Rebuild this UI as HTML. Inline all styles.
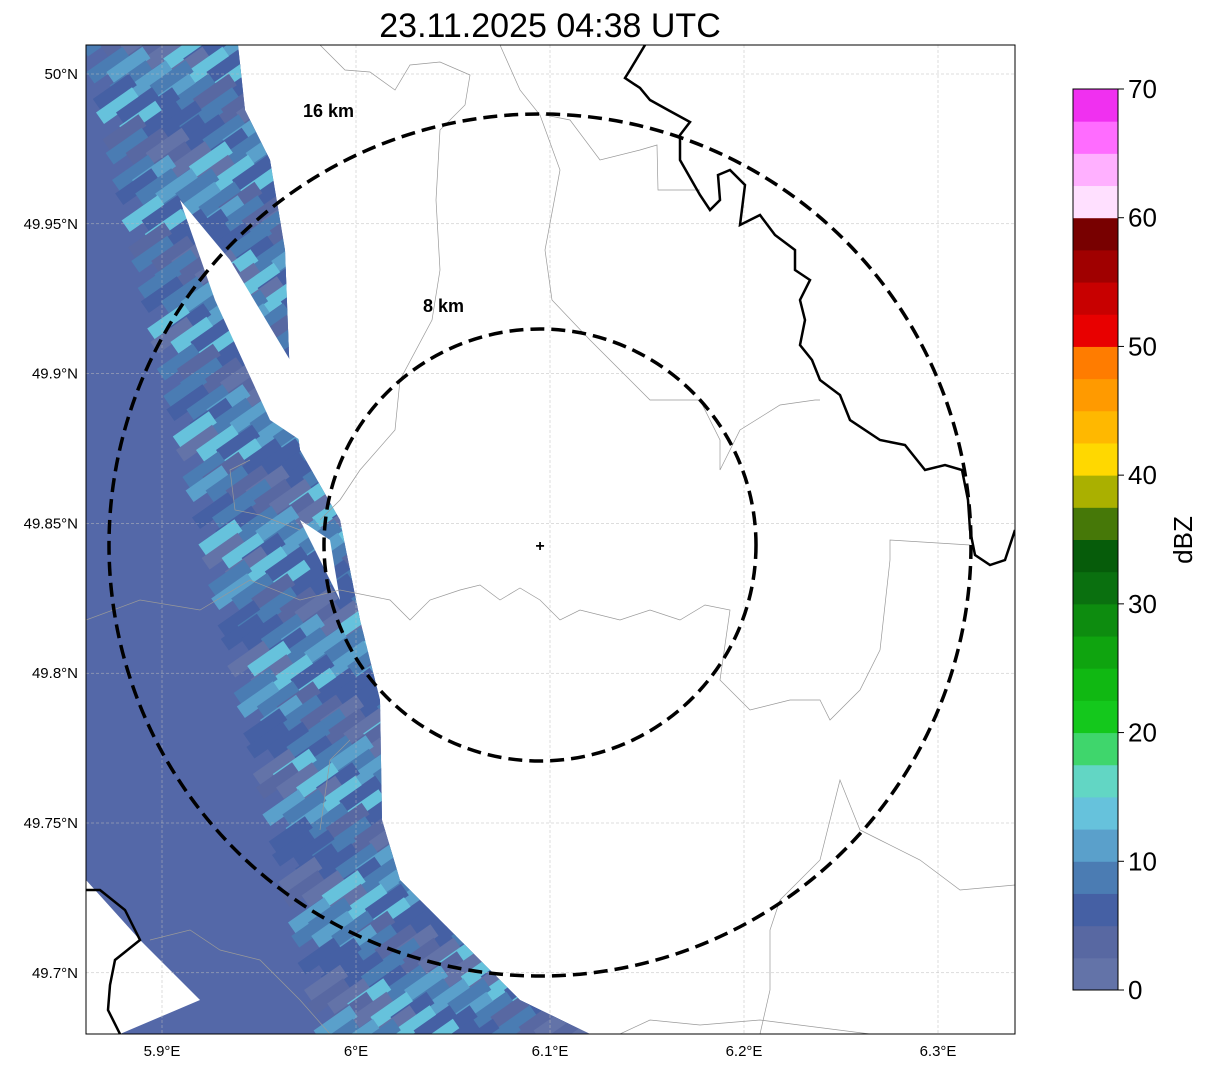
<!DOCTYPE html>
<html><head><meta charset="utf-8"><style>
body{margin:0;background:#fff;font-family:"Liberation Sans",sans-serif}
svg{display:block}
</style></head><body>
<svg width="1207" height="1069" viewBox="0 0 1207 1069">
<defs><clipPath id="mc"><rect x="86" y="45" width="929" height="989"/></clipPath></defs>
<text x="550" y="37" font-size="34" text-anchor="middle">23.11.2025 04:38 UTC</text>
<g clip-path="url(#mc)">
 <g id="echo"></g>
 <g id="grid"></g>
 <g fill="none" stroke="#999" stroke-width="0.7">
  <polyline points="320,45 345,70 370,72 395,90 410,65 440,62 470,75 465,105 440,130 436,200 440,270 432,320 400,380 395,430 360,470 340,500 320,520"/>
  <polyline points="500,45 520,90 540,115 560,170 545,250 552,300 590,340 620,370 650,400 700,400 720,440 720,470 740,430 780,405 815,400 820,400"/>
  <polyline points="545,115 570,120 600,160 640,150 657,145 658,190 700,190"/>
  <polyline points="86,620 140,600 200,610 250,580 300,600 340,590 390,600 410,620 430,600 460,590 480,585 500,600 520,588 540,600 560,620 580,610 620,620 650,610 680,620 705,605 730,610 720,680 750,710 790,700 820,700 830,720 860,690 880,650 890,560 890,540 970,545"/>
  <polyline points="760,1034 770,990 770,930 780,900 820,860 840,780 860,830 880,840 920,860 960,890 1015,885"/>
  <polyline points="250,460 230,470 235,510 260,515 300,530"/>
  <polyline points="150,940 190,930 220,950 260,960 300,1000 330,1034"/>
  <polyline points="620,1034 650,1020 700,1025 760,1020 870,1034"/>
  <polyline points="320,830 330,760 350,740"/>
 </g>
 <g fill="none" stroke="#000" stroke-width="2.5">
  <polyline points="645,45 630,70 625,78 640,88 650,100 668,110 690,122 680,135 680,160 700,195 710,210 720,200 718,175 730,170 745,185 740,225 760,215 775,235 795,250 795,270 810,280 800,300 805,320 800,345 812,360 820,380 840,395 850,420 880,440 905,445 925,470 945,465 962,470 968,500 970,530 975,555 990,565 1005,560 1015,530"/>
  <polyline points="86,890 100,890 125,910 140,940 115,960 110,985 108,1010 120,1034"/>
 </g>
 <g fill="none" stroke="#000" stroke-width="3.5" stroke-dasharray="14,7">
  <circle cx="540" cy="545" r="431"/>
  <circle cx="540" cy="545" r="216"/>
 </g>
 <text x="303" y="117" font-size="18" font-weight="bold">16 km</text>
 <text x="423" y="312" font-size="18" font-weight="bold">8 km</text>
 <text x="540" y="551" font-size="16" font-weight="bold" text-anchor="middle">+</text>
</g>
<rect x="86" y="45" width="929" height="989" fill="none" stroke="#000" stroke-width="1"/>
<g id="ticks" font-size="15"></g>
<g id="cbar"></g>
<text transform="translate(1192,540) rotate(-90)" font-size="26" text-anchor="middle">dBZ</text>
<script>
const lonTicks=[5.9,6.0,6.1,6.2,6.3];
const lonLabels=["5.9°E","6°E","6.1°E","6.2°E","6.3°E"];
const latTicks=[50,49.95,49.9,49.85,49.8,49.75,49.7];
const latLabels=["50°N","49.95°N","49.9°N","49.85°N","49.8°N","49.75°N","49.7°N"];
const cbarTicks=[0,10,20,30,40,50,60,70];
const cbarColors=["#6373a8","#5868a2","#4560a4","#4b7cb3","#5aa0cb","#66c2dc","#62d6c4","#3fd66c","#14c81c","#10b812","#0fa40f","#0d8c0f","#0a700f","#065c0a","#467808","#aab000","#ffd800","#ffb800","#ff9a00","#ff7c00","#e80000","#c80000","#a00000","#780000","#ffe0ff","#ffb0ff","#ff6cff","#f030f0"];
const X=lon=>162+(lon-5.9)*1940;
const Y=lat=>74+(50-lat)*2996;
const NS="http://www.w3.org/2000/svg";
function mk(t,a,p){const e=document.createElementNS(NS,t);for(const k in a)e.setAttribute(k,a[k]);p.appendChild(e);return e;}
const grid=document.getElementById('grid'),ticks=document.getElementById('ticks');
lonTicks.forEach((v,i)=>{const x=X(v);
 const l=mk('line',{x1:x,x2:x,y1:45,y2:1034,stroke:'#bbb','stroke-width':0.5,'stroke-dasharray':'3,2'},grid);
 
 
 const t=mk('text',{x:x,y:1056,'text-anchor':'middle'},ticks);t.textContent=lonLabels[i];
 
 });
latTicks.forEach((v,i)=>{const y=Y(v);
 const l=mk('line',{x1:86,x2:1015,y1:y,y2:y,stroke:'#bbb','stroke-width':0.5,'stroke-dasharray':'3,2'},grid);
 
 
 const t=mk('text',{x:78,y:y+5,'text-anchor':'end'},ticks);t.textContent=latLabels[i];
 
 });
const cb=document.getElementById('cbar');const cy0=990,ch=901;
cbarColors.forEach((c,i)=>{const h=ch/cbarColors.length;
 const r=mk('rect',{x:1073,y:cy0-(i+1)*h,width:45,height:h+0.5,fill:c},cb);
 
 });
mk('rect',{x:1073,y:89,width:45,height:901,fill:'none',stroke:'#000','stroke-width':1},cb);
cbarTicks.forEach(v=>{const y=cy0-v/70*ch;
 mk('line',{x1:1118,x2:1124,y1:y,y2:y,stroke:'#000'},cb);
 const t=mk('text',{x:1128,y:y+9,'font-size':26},cb);t.textContent=v;
 
 });
const echo=document.getElementById('echo');
const edge=[[86,45],[238,45],[245,110],[270,160],[285,250],[290,380],[300,450],[340,520],[360,620],[380,700],[382,820],[400,880],[470,950],[520,1000],[590,1034],[86,1034]];
const p=mk('polygon',{points:edge.map(a=>a.join(',')).join(' '),fill:'#5468a8'},echo);


const streaks=["#4a7cb3","#4560a4","#6373a8","#5aa0cb","#4560a4","#5868a2","#4a7cb3","#66c2dc"];
const cp=mk('clipPath',{id:'ec'},echo);mk('polygon',{points:edge.map(a=>a.join(',')).join(' ')},cp);
const g=mk('g',{'clip-path':'url(#ec)'},echo);
for(let i=0;i<75;i++){for(let j=0;j<16;j++){
 const k=(i*7+j*13)%11;if(k>6)continue;
 const cx=80+j*20+i*3.2,cy=45+i*13.5;
 const r=mk('rect',{x:cx,y:cy,width:44,height:14,fill:streaks[(i*3+j*5)%8],transform:`rotate(-35 ${cx} ${cy})`},g);
 
 }}
[[[180,200],[230,260],[290,360],[300,440],[270,420],[215,300]],[[86,880],[140,940],[200,1000],[120,1034],[86,1034]],[[300,520],[340,600],[330,540]]].forEach(pt=>{
 const w=mk('polygon',{points:pt.map(a=>a.join(',')).join(' '),fill:'#fff'},echo);
 
 });
</script>
</svg>
</body></html>
